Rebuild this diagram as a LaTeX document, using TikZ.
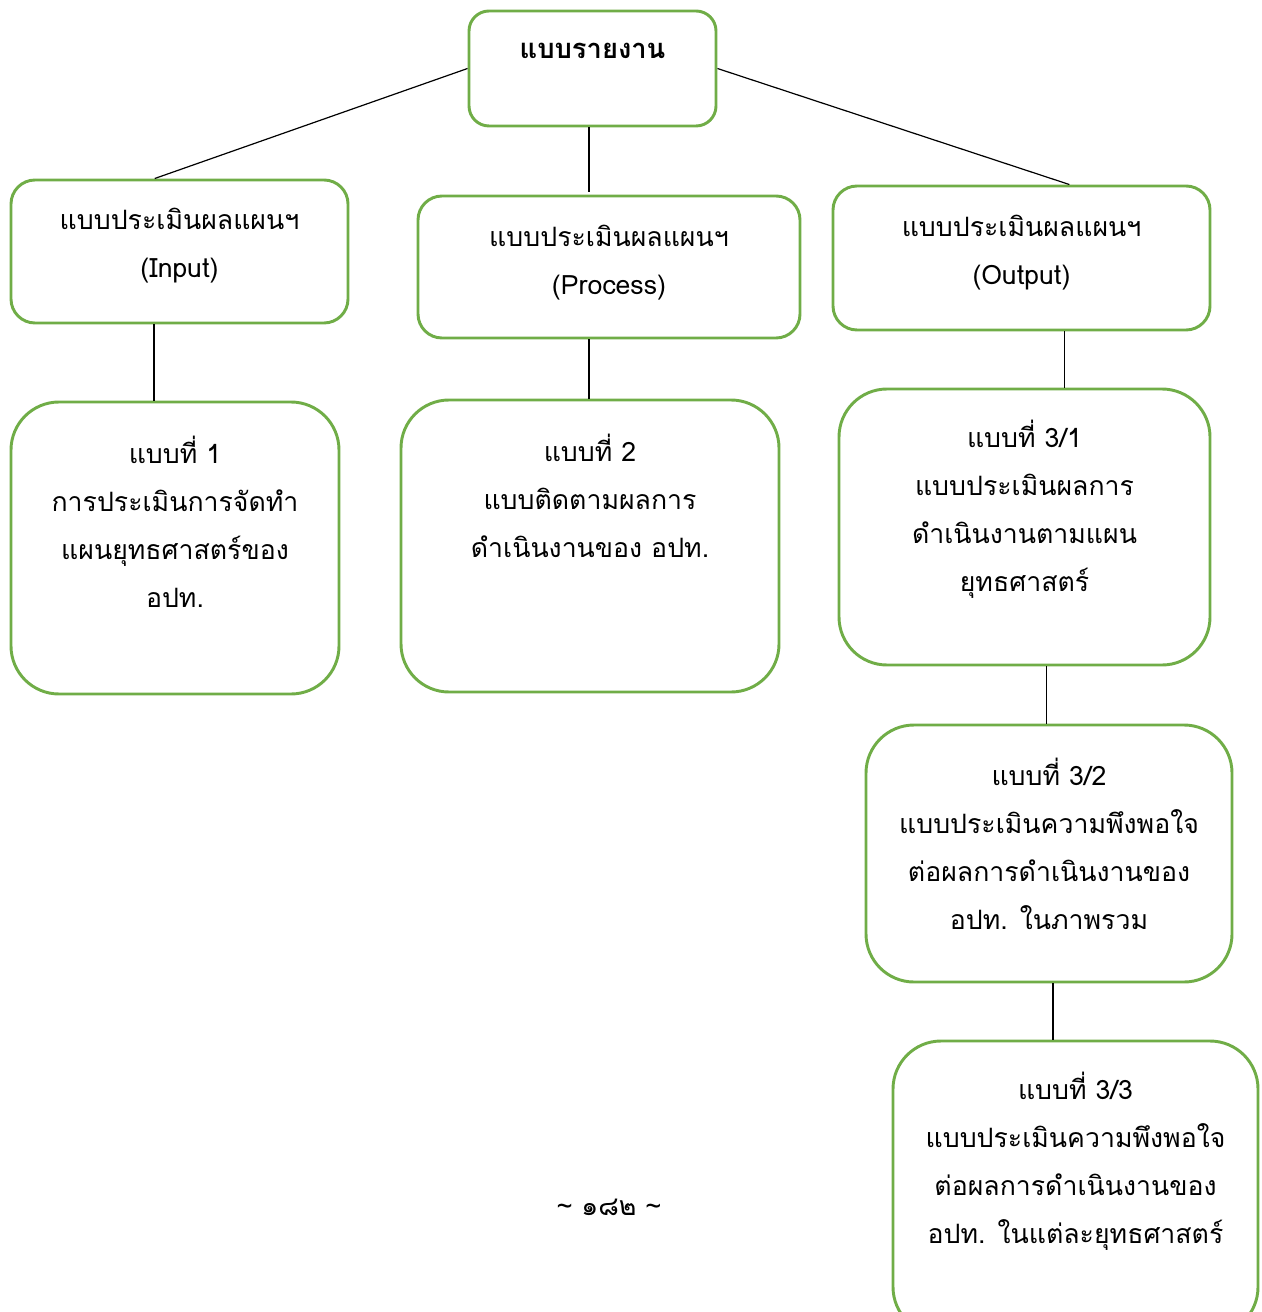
\documentclass[tikz,border=0pt]{standalone}
\usepackage{fontspec}
\newfontfamily\thaifont[Script=Thai]{Loma}
\usetikzlibrary{calc}
\definecolor{boxgreen}{HTML}{70AD47}
\tikzset{
  box/.style={draw=boxgreen, line width=2.2pt, rounded corners=#1, inner sep=0pt, fill=white},
  box/.default=16pt,
  txt/.style={align=center, inner sep=0pt, font=\thaifont\fontsize{20}{36}\selectfont},
  conn/.style={draw=black, line width=0.9pt}
}
\begin{document}
\begin{tikzpicture}[x=0.75pt,y=-0.75pt]
\useasboundingbox (0,0) rectangle (1262,1312);
\clip (0,0) rectangle (1262,1312);
% boxes
\node[box=15pt, minimum width=185.25pt, minimum height=86.25pt] (top) at (592.5,68.5) {};
\node[box=18pt, minimum width=252.75pt, minimum height=107.25pt] (in) at (179.5,251.5) {};
\node[box=18pt, minimum width=286.5pt, minimum height=106.5pt] (proc) at (609,267) {};
\node[box=18pt, minimum width=282.75pt, minimum height=108pt] (out) at (1021.5,258) {};
\node[box=36pt, minimum width=246pt, minimum height=219pt] (b1) at (175,548) {};
\node[box=36pt, minimum width=283.5pt, minimum height=219pt] (b2) at (590,546) {};
\node[box=36pt, minimum width=278.25pt, minimum height=207pt] (b31) at (1024.5,527) {};
\node[box=36pt, minimum width=274.5pt, minimum height=192.75pt] (b32) at (1049,853.5) {};
\node[box=36pt, minimum width=273.75pt, minimum height=220.5pt] (b33) at (1075.5,1188) {};
% texts
\node[txt, font=\thaifont\bfseries\fontsize{20.5}{36}\selectfont] (ttop) at (592.5,51) {แบบรายงาน};
\node[txt] (tin) at (179.5,246) {แบบประเมินผลแผนฯ\\(Input)};
\node[txt] (tproc) at (609,262.5) {แบบประเมินผลแผนฯ\\(Process)};
\node[txt] (tout) at (1021.5,252.5) {แบบประเมินผลแผนฯ\\(Output)};
\node[txt] (tb1) at (175,521.5) {แบบที่ 1\\การประเมินการจัดทำ\\แผนยุทธศาสตร์ของ\\อปท.};
\node[txt] (tb2) at (590,496) {แบบที่ 2\\แบบติดตามผลการ\\ดำเนินงานของ อปท.};
\node[txt] (tb31) at (1024.5,509.5) {แบบที่ 3/1\\แบบประเมินผลการ\\ดำเนินงานตามแผน\\ยุทธศาสตร์};
\node[txt] (tb32) at (1049,844) {แบบที่ 3/2\\แบบประเมินความพึงพอใจ\\ต่อผลการดำเนินงานของ\\อปท. ในภาพรวม};
\node[txt] (tb33) at (1075.5,1161) {แบบที่ 3/3\\แบบประเมินความพึงพอใจ\\ต่อผลการดำเนินงานของ\\อปท. ในแต่ละยุทธศาสตร์};
\node[txt, font=\thaifont\fontsize{20}{24}\selectfont] (page) at (609,1207) {\~{} ๑๘๒ \~{}};
% connectors
\draw[conn] (top.west) -- ($(in.north west)!0.427!(in.north east)$);
\draw[conn] (top.east) -- ($(out.north west)!0.626!(out.north east)$);
\draw[conn] ([xshift=-2.6pt]top.south) -- ([xshift=-2.6pt,yshift=2.2pt]top.south |- proc.north);
\draw[conn] ($(in.south west)!0.425!(in.south east)$) coordinate (a1) -- (a1 |- b1.north);
\draw[conn] ($(proc.south west)!0.448!(proc.south east)$) coordinate (a2) -- (a2 |- b2.north);
\draw[conn] ($(out.south west)!0.613!(out.south east)$) coordinate (a3) -- (a3 |- b31.north);
\draw[conn] ($(b31.south west)!0.558!(b31.south east)$) coordinate (a4) -- (a4 |- b32.north);
\draw[conn] ($(b32.south west)!0.511!(b32.south east)$) coordinate (a5) -- (a5 |- b33.north);
\end{tikzpicture}
\end{document}
